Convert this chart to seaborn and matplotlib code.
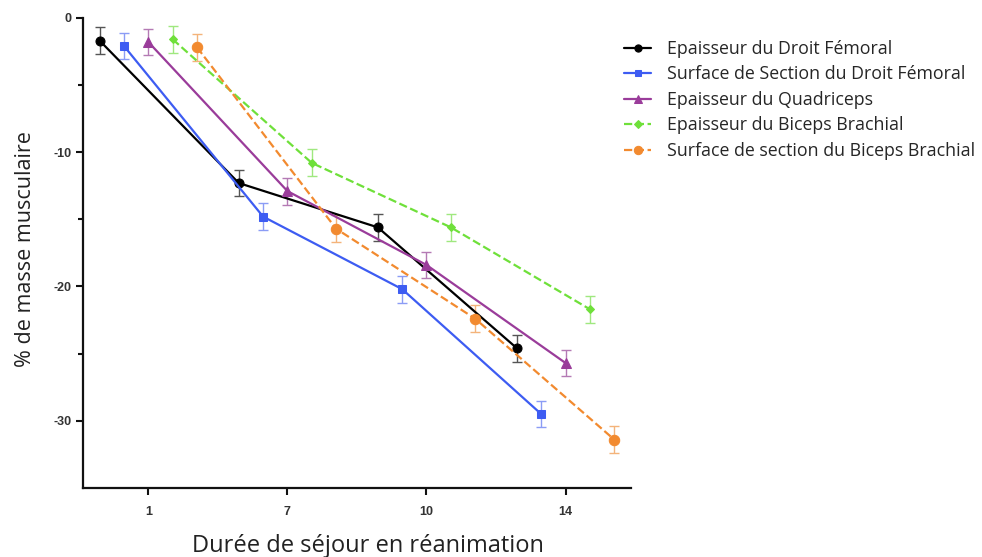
"""
Évolution de la masse musculaire selon la durée de séjour en réanimation.
"""

import matplotlib
matplotlib.use("Agg")
import matplotlib.pyplot as plt
from matplotlib.ticker import FixedLocator
import seaborn as sns
import pandas as pd

# Données
jours = ["1", "7", "10", "14"]
series = [
    "Epaisseur du Droit Fémoral",
    "Surface de Section du Droit Fémoral",
    "Epaisseur du Quadriceps",
    "Epaisseur du Biceps Brachial",
    "Surface de section du Biceps Brachial",
]
epaisseur_droit_femoral = [-1.7, -12.3, -15.6, -24.6]
surface_droit_femoral = [-2.1, -14.8, -20.2, -29.5]
epaisseur_quadriceps = [-1.8, -12.9, -18.4, -25.7]
epaisseur_biceps = [-1.6, -10.8, -15.6, -21.7]
surface_biceps = [-2.2, -15.7, -22.4, -31.4]
erreurs = [1.0, 1.0, 1.0, 1.0]

valeurs = [epaisseur_droit_femoral, surface_droit_femoral, epaisseur_quadriceps,
           epaisseur_biceps, surface_biceps]

couleurs = ["#000000", "#3d5cf2", "#9a3c9a", "#6fe03a", "#f28a2f"]
err_couleurs = ["#555555", "#8b9cf5", "#b47ab4", "#9fe87f", "#f4b37a"]
marqueurs = ["o", "s", "^", "D", "o"]
tailles = [6.5, 5.5, 6.5, 4.5, 7.5]
traits = ["-", "-", "-", "--", "--"]
decalages = [-0.35, -0.175, 0.0, 0.175, 0.35]

sns.set_style("white")
plt.rcParams["font.family"] = ["Open Sans", "DejaVu Sans"]
plt.rcParams["axes.unicode_minus"] = False

fig = plt.figure(figsize=(9.82, 5.57), dpi=100)
ax = fig.add_axes([0.0845, 0.124, 0.558, 0.844])

for i, nom in enumerate(series):
    df = pd.DataFrame({
        "x": [k + decalages[i] for k in range(len(jours))],
        "valeur": valeurs[i],
    })
    ax.errorbar(df["x"], df["valeur"], yerr=erreurs, fmt="none",
                ecolor=err_couleurs[i], elinewidth=1.0, capsize=3.5,
                capthick=1.0, zorder=2)
    sns.lineplot(data=df, x="x", y="valeur", ax=ax, color=couleurs[i],
                 marker=marqueurs[i], markersize=tailles[i],
                 markeredgecolor=couleurs[i], linestyle=traits[i],
                 linewidth=1.6, label=nom, zorder=3)

ax.set_xlim(-0.47, 3.47)
ax.set_ylim(-35, 0)
ax.set_xticks(range(len(jours)))
ax.set_xticklabels(jours)
ax.set_yticks([0, -10, -20, -30])
ax.yaxis.set_minor_locator(FixedLocator([-5, -15, -25]))

for s in ["top", "right"]:
    ax.spines[s].set_visible(False)
for s in ["left", "bottom"]:
    ax.spines[s].set_linewidth(1.6)
    ax.spines[s].set_color("#111111")

ax.tick_params(axis="both", which="major", direction="out", length=5,
               width=1.5, color="#111111", labelsize=9)
ax.tick_params(axis="x", which="major", pad=8)
ax.tick_params(axis="y", which="minor", direction="out", length=3.5,
               width=1.5, color="#111111")
ax.tick_params(left=True, bottom=True)
ax.yaxis.set_tick_params(which="minor", left=True)
for lab in ax.get_xticklabels() + ax.get_yticklabels():
    lab.set_fontfamily("Liberation Sans")
    lab.set_fontweight("bold")
    lab.set_color("#333333")

ax.set_xlabel("Durée de séjour en réanimation", fontsize=17, color="#222222")
ax.set_ylabel("% de masse musculaire", fontsize=15.5, color="#222222")
ax.xaxis.set_label_coords(0.52, -0.098)
ax.yaxis.set_label_coords(-0.086, 0.508)
ax.grid(False)

ax.legend(loc="upper left", bbox_to_anchor=(0.975, 0.968), frameon=False,
          fontsize=12.8, handlelength=1.5, handletextpad=0.9,
          labelspacing=0.42, borderaxespad=0.0, markerscale=0.8)

fig.savefig("out.png", dpi=100)
